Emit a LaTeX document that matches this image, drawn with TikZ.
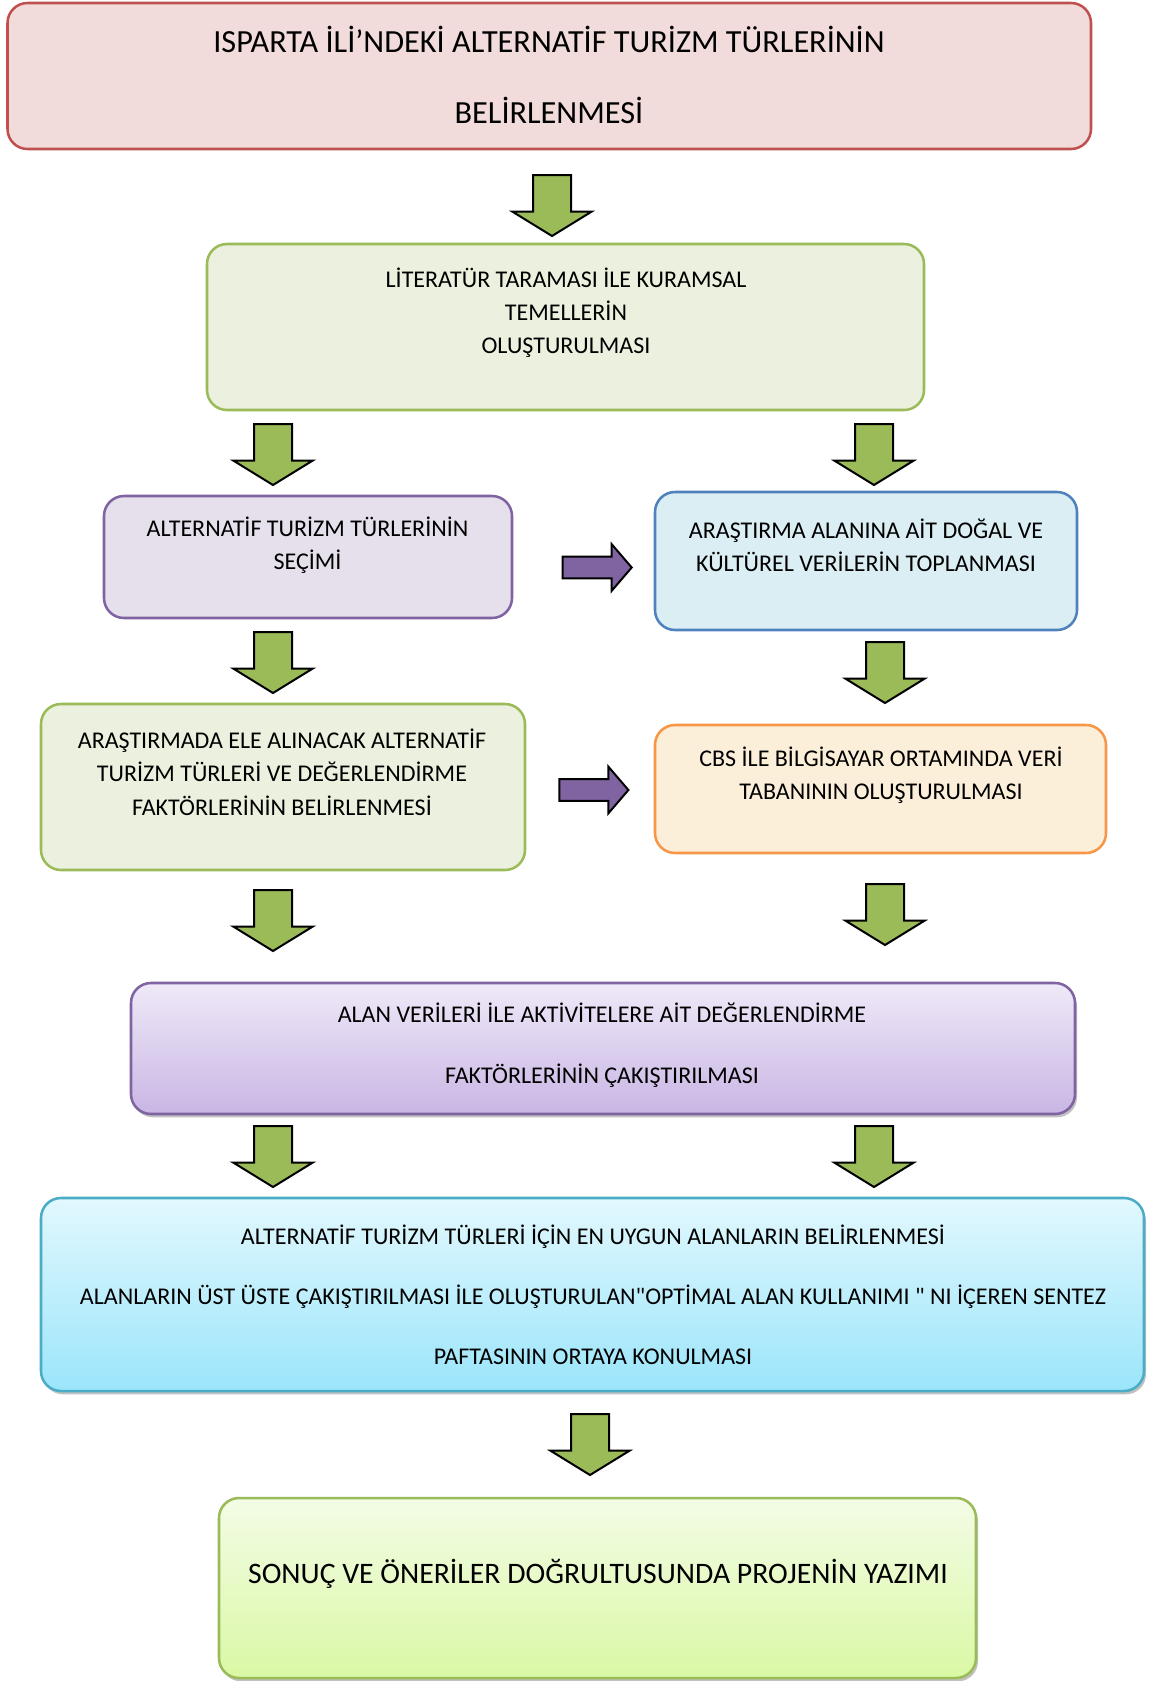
\documentclass[tikz,border=0pt]{standalone}
\usepackage{fontspec}
\setmainfont{Carlito}[Ligatures=TeXOff]
\usetikzlibrary{shadows}
\definecolor{redline}{HTML}{C0504D}
\definecolor{redfill}{HTML}{F2DCDB}
\definecolor{greenline}{HTML}{9BBB59}
\definecolor{greenfill}{HTML}{EBF1DE}
\definecolor{purpleline}{HTML}{8064A2}
\definecolor{purplefill}{HTML}{E5E0EC}
\definecolor{blueline}{HTML}{4F81BD}
\definecolor{bluefill}{HTML}{DBEEF4}
\definecolor{orangeline}{HTML}{F79646}
\definecolor{orangefill}{HTML}{FCEFDA}
\definecolor{cyanline}{HTML}{4BACC6}
\definecolor{lavtop}{HTML}{EFE9F8}
\definecolor{lavbot}{HTML}{C9B6E4}
\definecolor{skytop}{HTML}{E2F8FE}
\definecolor{skybot}{HTML}{9BE5FA}
\definecolor{limetop}{HTML}{F3FCE6}
\definecolor{limebot}{HTML}{DAF8A4}
\tikzset{
  frame/.style={rounded corners=15pt, line width=1.9pt},
  shadowed/.style={drop shadow={shadow xshift=1.5pt, shadow yshift=-2.5pt, opacity=.35, fill=black!70}},
  txt/.style={align=center, inner sep=0pt, font=\fontsize{18}{25}\selectfont},
  garrow/.style={fill=greenline, draw=black, line width=1.5pt, line join=miter},
  parrow/.style={fill=purpleline, draw=black, line width=1.5pt, line join=miter}
}
\begin{document}
\begin{tikzpicture}[x=0.75pt,y=-0.75pt]
  \useasboundingbox (0,0) rectangle (1152,1681);
  \draw[frame, draw=redline, fill=redfill] (7.5,3) rectangle (1091,149);
  \draw[frame, draw=greenline, fill=greenfill] (207,244) rectangle (924,410);
  \draw[frame, draw=purpleline, fill=purplefill] (104,496) rectangle (512,618);
  \draw[frame, draw=blueline, fill=bluefill] (655,492) rectangle (1077,630);
  \draw[frame, draw=greenline, fill=greenfill] (41,704) rectangle (525,870);
  \draw[frame, draw=orangeline, fill=orangefill] (655,725) rectangle (1106,853);
  \draw[frame, shadowed, draw=purpleline, top color=lavtop, bottom color=lavbot] (131,983) rectangle (1075,1114);
  \draw[frame, shadowed, draw=cyanline, top color=skytop, bottom color=skybot] (41,1198) rectangle (1144,1391);
  \draw[frame, shadowed, draw=greenline, top color=limetop, bottom color=limebot] (219,1498) rectangle (976,1678);

  \node (isparta) at (549,75) [txt, font=\fontsize{24.2}{53.6}\selectfont]
    {ISPARTA İLİ’NDEKİ ALTERNATİF TURİZM TÜRLERİNİN\\BELİRLENMESİ};
  \node (literatur) at (566,312.7) [txt]
    {LİTERATÜR TARAMASI İLE KURAMSAL\\TEMELLERİN\\OLUŞTURULMASI};
  \node (secim) at (307.5,545) [txt]
    {ALTERNATİF TURİZM TÜRLERİNİN\\SEÇİMİ};
  \node (veri) at (866,545) [txt]
    {ARAŞTIRMA ALANINA AİT DOĞAL VE\\KÜLTÜREL VERİLERİN TOPLANMASI};
  \node (faktor) at (282,772) [txt]
    {ARAŞTIRMADA ELE ALINACAK ALTERNATİF\\TURİZM TÜRLERİ VE DEĞERLENDİRME\\FAKTÖRLERİNİN BELİRLENMESİ};
  \node (cbs) at (881,775) [txt]
    {CBS İLE BİLGİSAYAR ORTAMINDA VERİ\\TABANININ OLUŞTURULMASI};
  \node (cakis) at (602,1045.5) [txt, font=\fontsize{18}{45.75}\selectfont]
    {ALAN VERİLERİ İLE AKTİVİTELERE AİT DEĞERLENDİRME\\FAKTÖRLERİNİN ÇAKIŞTIRILMASI};
  \node (optimal) at (593,1294.5) [txt, font=\fontsize{18}{45}\selectfont]
    {ALTERNATİF TURİZM TÜRLERİ İÇİN EN UYGUN ALANLARIN BELİRLENMESİ\\ALANLARIN ÜST ÜSTE ÇAKIŞTIRILMASI İLE OLUŞTURULAN"OPTİMAL ALAN KULLANIMI " NI İÇEREN SENTEZ\\PAFTASININ ORTAYA KONULMASI};
  \node (sonuc) at (598,1574) [txt, font=\fontsize{22.3}{25}\selectfont]
    {SONUÇ VE ÖNERİLER DOĞRULTUSUNDA PROJENİN YAZIMI};

  \foreach \x/\y in {552/175, 273/424, 874/424, 273/632, 885/642, 273/890, 885/884, 273/1126, 874/1126, 590/1414}
    \draw[garrow] (\x-19,\y) -- (\x+19,\y) -- (\x+19,\y+36.7) -- (\x+39.5,\y+36.7)
      -- (\x,\y+61) -- (\x-39.5,\y+36.7) -- (\x-19,\y+36.7) -- cycle;
  \foreach \x/\y in {562.7/567.5, 559.4/790}
    \draw[parrow] (\x,\y-10.8) -- (\x+49,\y-10.8) -- (\x+49,\y-23.3) -- (\x+69,\y)
      -- (\x+49,\y+23.3) -- (\x+49,\y+10.8) -- (\x,\y+10.8) -- cycle;
\end{tikzpicture}
\end{document}
